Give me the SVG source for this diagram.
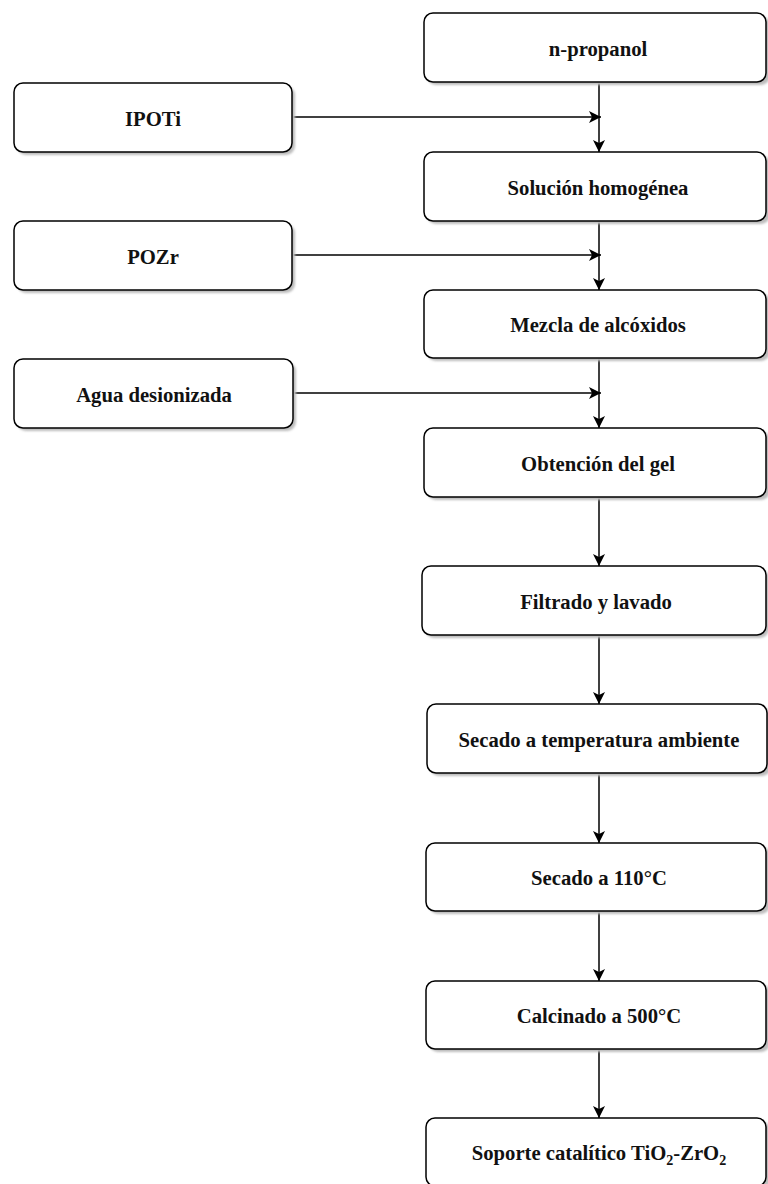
<svg xmlns="http://www.w3.org/2000/svg" width="768" height="1184" viewBox="0 0 768 1184">
<style>
.box{fill:#fff;stroke:#000;stroke-width:1.5}
.sh{fill:#bdbdbd}
.t{font-family:"Liberation Serif","Times New Roman",serif;font-size:22px;font-weight:bold;fill:#111;text-anchor:middle}
.c{fill:none;stroke:#000;stroke-width:1.5}
</style>
<defs>
<marker id="ah" viewBox="0 0 10 10" refX="10" refY="5" markerWidth="13" markerHeight="12" markerUnits="userSpaceOnUse" orient="auto">
<path d="M0,0 L10,5 L0,10 L2.5,5 Z" fill="#000"/>
</marker>
<filter id="blur" x="-5%" y="-5%" width="110%" height="120%"><feGaussianBlur stdDeviation="1.2"/></filter>
</defs>
<rect width="768" height="1184" fill="#fff"/>
<g id="connectors">
<line class="c" x1="599" y1="82" x2="599" y2="152" marker-end="url(#ah)"/>
<line class="c" x1="292" y1="117" x2="601" y2="117" marker-end="url(#ah)"/>
<line class="c" x1="599" y1="221" x2="599" y2="290" marker-end="url(#ah)"/>
<line class="c" x1="292" y1="255" x2="601" y2="255" marker-end="url(#ah)"/>
<line class="c" x1="599" y1="358" x2="599" y2="428" marker-end="url(#ah)"/>
<line class="c" x1="293" y1="393" x2="601" y2="393" marker-end="url(#ah)"/>
<line class="c" x1="599" y1="497" x2="599" y2="566" marker-end="url(#ah)"/>
<line class="c" x1="599" y1="635" x2="599" y2="704" marker-end="url(#ah)"/>
<line class="c" x1="599" y1="773" x2="599" y2="843" marker-end="url(#ah)"/>
<line class="c" x1="599" y1="911" x2="599" y2="981" marker-end="url(#ah)"/>
<line class="c" x1="599" y1="1049" x2="599" y2="1118" marker-end="url(#ah)"/>
</g>
<g id="n-propanol">
<rect class="sh" x="427" y="16" width="343" height="69" rx="9" filter="url(#blur)"/>
<rect class="box" x="424" y="13" width="342" height="69" rx="9"/>
<text class="t" transform="translate(598,55.5) scale(0.94,1)">n-propanol</text>
</g>
<g id="ipoti">
<rect class="sh" x="17" y="86" width="278" height="69" rx="9" filter="url(#blur)"/>
<rect class="box" x="14" y="83" width="278" height="69" rx="9"/>
<text class="t" transform="translate(153,125.5) scale(0.94,1)">IPOTi</text>
</g>
<g id="solucion">
<rect class="sh" x="427" y="155" width="343" height="69" rx="9" filter="url(#blur)"/>
<rect class="box" x="424" y="152" width="342" height="69" rx="9"/>
<text class="t" transform="translate(598,194.5) scale(0.94,1)">Solución homogénea</text>
</g>
<g id="pozr">
<rect class="sh" x="17" y="224" width="278" height="69" rx="9" filter="url(#blur)"/>
<rect class="box" x="14" y="221" width="278" height="69" rx="9"/>
<text class="t" transform="translate(153,263.5) scale(0.94,1)">POZr</text>
</g>
<g id="mezcla">
<rect class="sh" x="427" y="293" width="343" height="68" rx="9" filter="url(#blur)"/>
<rect class="box" x="424" y="290" width="342" height="68" rx="9"/>
<text class="t" transform="translate(598,332) scale(0.94,1)">Mezcla de alcóxidos</text>
</g>
<g id="agua">
<rect class="sh" x="17" y="362" width="279" height="69" rx="9" filter="url(#blur)"/>
<rect class="box" x="14" y="359" width="279" height="69" rx="9"/>
<text class="t" transform="translate(154,401.5) scale(0.94,1)">Agua desionizada</text>
</g>
<g id="obtencion">
<rect class="sh" x="427" y="431" width="343" height="69" rx="9" filter="url(#blur)"/>
<rect class="box" x="424" y="428" width="342" height="69" rx="9"/>
<text class="t" transform="translate(598,470.5) scale(0.94,1)">Obtención del gel</text>
</g>
<g id="filtrado">
<rect class="sh" x="425" y="569" width="344" height="69" rx="9" filter="url(#blur)"/>
<rect class="box" x="422" y="566" width="344" height="69" rx="9"/>
<text class="t" transform="translate(596,608.5) scale(0.94,1)">Filtrado y lavado</text>
</g>
<g id="secado-temp">
<rect class="sh" x="430" y="707" width="341" height="69" rx="9" filter="url(#blur)"/>
<rect class="box" x="427" y="704" width="340" height="69" rx="9"/>
<text class="t" transform="translate(599,746.5) scale(0.94,1)">Secado a temperatura ambiente</text>
</g>
<g id="secado-110">
<rect class="sh" x="429" y="846" width="341" height="68" rx="9" filter="url(#blur)"/>
<rect class="box" x="426" y="843" width="340" height="68" rx="9"/>
<text class="t" transform="translate(599,885) scale(0.94,1)">Secado a 110°C</text>
</g>
<g id="calcinado">
<rect class="sh" x="429" y="984" width="341" height="68" rx="9" filter="url(#blur)"/>
<rect class="box" x="426" y="981" width="340" height="68" rx="9"/>
<text class="t" transform="translate(599,1023) scale(0.94,1)">Calcinado a 500°C</text>
</g>
<g id="soporte">
<rect class="sh" x="429" y="1121" width="341" height="68" rx="9" filter="url(#blur)"/>
<rect class="box" x="426" y="1118" width="340" height="68" rx="9"/>
<text class="t" transform="translate(599,1160) scale(0.94,1)">Soporte catalítico TiO<tspan font-size="15" dy="5">2</tspan><tspan dy="-5">-ZrO</tspan><tspan font-size="15" dy="5">2</tspan></text>
</g>
</svg>
